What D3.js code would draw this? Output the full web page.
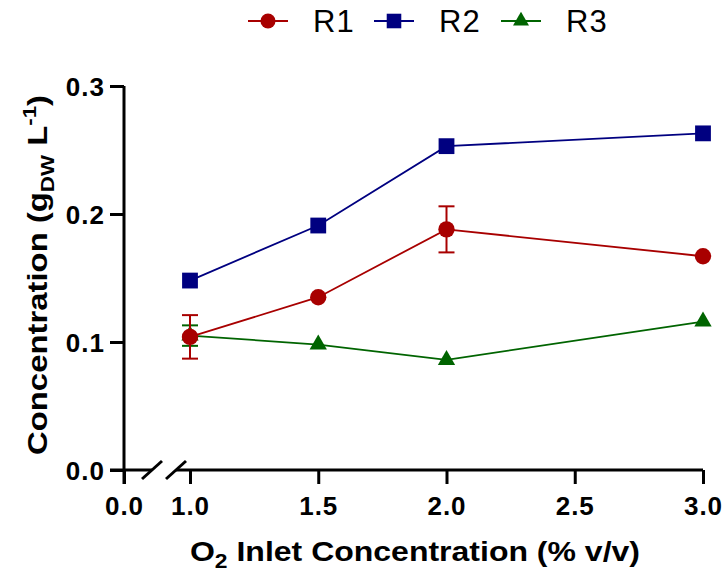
<!DOCTYPE html>
<html>
<head>
<meta charset="utf-8">
<script src="https://cdn.jsdelivr.net/npm/d3@7"></script>
<style>
  body { margin: 0; background: #fff; }
  text { font-family: Arial, "Liberation Sans", sans-serif; }
</style>
</head>
<body>
<svg id="chart" width="726" height="572"></svg>
<script>
// data
var xValues = [1.0, 1.5, 2.0, 3.0];
var r1 = [0.104, 0.135, 0.188, 0.167];
var r1Err = [0.017, 0, 0.018, 0];
var r2 = [0.148, 0.191, 0.253, 0.263];
var r2Err = [0, 0, 0, 0];
var r3 = [0.105, 0.098, 0.086, 0.116];
var r3Err = [0.008, 0, 0, 0];
var seriesNames = ["R1", "R2", "R3"];
var seriesColors = ["#a80000", "#000080", "#006400"];
var xTicks = [1.0, 1.5, 2.0, 2.5, 3.0];
var yTicks = [0.0, 0.1, 0.2, 0.3];

var svg = d3.select("#chart");

// scales: the x axis is broken between 0 and 1
var x = d3.scaleLinear().domain([1, 3]).range([190, 703]);
var xLeft = d3.scaleLinear().domain([0, 0.1]).range([125, 150]);
var y = d3.scaleLinear().domain([0, 0.3]).range([470, 86]);

var fmt = d3.format(".1f");
var tick = 14;

// y axis
var yAxis = svg.append("g")
  .attr("transform", "translate(124,0)")
  .call(d3.axisLeft(y).tickValues(yTicks).tickFormat(fmt).tickSize(tick).tickPadding(5));
yAxis.select(".domain").attr("d", "M0," + y(0.3) + "V" + (y(0) + tick));
yAxis.selectAll(".tick text").attr("dy", "0.36em");

// x axis, right part
var xAxis = svg.append("g")
  .attr("transform", "translate(0,470)")
  .call(d3.axisBottom(x).tickValues(xTicks).tickFormat(fmt).tickSize(tick).tickPadding(13));
xAxis.select(".domain").attr("d", "M176,0H" + x(3));

// x axis, left part with just 0.0
var xAxisLeft = svg.append("g")
  .attr("transform", "translate(-1,470)")
  .call(d3.axisBottom(xLeft).tickValues([0]).tickFormat(fmt).tickSize(tick).tickPadding(13));
xAxisLeft.select(".domain").attr("d", "M111,0H153");

// break marks
[152, 176].forEach(function(cx) {
  svg.append("line")
    .attr("x1", cx - 10).attr("y1", 479)
    .attr("x2", cx + 10).attr("y2", 461)
    .attr("stroke", "black").attr("stroke-width", 3);
});

svg.selectAll(".domain, .tick line")
  .attr("stroke", "black").attr("stroke-width", 3);
svg.selectAll(".tick text")
  .attr("fill", "black")
  .style("font-size", "26px")
  .style("font-weight", "bold")
  .style("letter-spacing", "1px");

// series
var series = [
  { name: seriesNames[0], values: r1, err: r1Err, color: seriesColors[0], shape: d3.symbolCircle, size: 210 },
  { name: seriesNames[1], values: r2, err: r2Err, color: seriesColors[1], shape: d3.symbolSquare, size: 250 },
  { name: seriesNames[2], values: r3, err: r3Err, color: seriesColors[2], shape: d3.symbolTriangle, size: 130 }
];

var line = d3.line()
  .x(function(d) { return x(d.x); })
  .y(function(d) { return y(d.y); });

// draw back to front: R3 first so that R1 sits on top
series.slice().reverse().forEach(function(s) {
  var pts = xValues.map(function(v, i) { return { x: v, y: s.values[i], e: s.err[i] }; });
  var g = svg.append("g");

  g.append("path")
    .datum(pts)
    .attr("d", line)
    .attr("fill", "none")
    .attr("stroke", s.color)
    .attr("stroke-width", 1.8);

  // error bars
  pts.filter(function(d) { return d.e > 0; }).forEach(function(d) {
    var cx = x(d.x);
    g.append("line")
      .attr("x1", cx).attr("x2", cx)
      .attr("y1", y(d.y - d.e)).attr("y2", y(d.y + d.e))
      .attr("stroke", s.color).attr("stroke-width", 2);
    [d.y - d.e, d.y + d.e].forEach(function(v) {
      g.append("line")
        .attr("x1", cx - 8).attr("x2", cx + 8)
        .attr("y1", y(v)).attr("y2", y(v))
        .attr("stroke", s.color).attr("stroke-width", 2);
    });
  });

  g.selectAll(".pt")
    .data(pts)
    .enter()
    .append("path")
    .attr("d", d3.symbol().type(s.shape).size(s.size))
    .attr("transform", function(d) { return "translate(" + x(d.x) + "," + y(d.y) + ")"; })
    .attr("fill", s.color);
});

// legend
var legendX = [268, 394, 521];
series.forEach(function(s, i) {
  var lg = svg.append("g").attr("transform", "translate(" + legendX[i] + ",21)");
  lg.append("line")
    .attr("x1", -20).attr("x2", 20)
    .attr("stroke", s.color).attr("stroke-width", 1.8);
  lg.append("path")
    .attr("d", d3.symbol().type(s.shape).size(s.size * 0.85))
    .attr("fill", s.color);
  lg.append("text")
    .attr("x", 45).attr("y", 11)
    .text(s.name)
    .style("font-size", "31px")
    .style("letter-spacing", "1px")
    .attr("fill", "black");
});

// axis titles
var yTitle = svg.append("text")
  .attr("transform", "translate(47,275) rotate(-90)")
  .attr("text-anchor", "middle")
  .attr("textLength", 360)
  .attr("lengthAdjust", "spacingAndGlyphs")
  .style("font-size", "28px")
  .style("font-weight", "bold");
yTitle.append("tspan").text("Concentration (g");
yTitle.append("tspan").attr("dy", 7).style("font-size", "19px").text("DW");
yTitle.append("tspan").attr("dy", -7).text(" L");
yTitle.append("tspan").attr("dy", -11).style("font-size", "19px").text("-1");
yTitle.append("tspan").attr("dy", 11).text(")");

var xTitle = svg.append("text")
  .attr("x", 415).attr("y", 561)
  .attr("text-anchor", "middle")
  .attr("textLength", 450)
  .attr("lengthAdjust", "spacingAndGlyphs")
  .style("font-size", "28px")
  .style("font-weight", "bold");
xTitle.append("tspan").text("O");
xTitle.append("tspan").attr("dy", 7).style("font-size", "20px").text("2");
xTitle.append("tspan").attr("dy", -7).text(" Inlet Concentration (% v/v)");
</script>
</body>
</html>
